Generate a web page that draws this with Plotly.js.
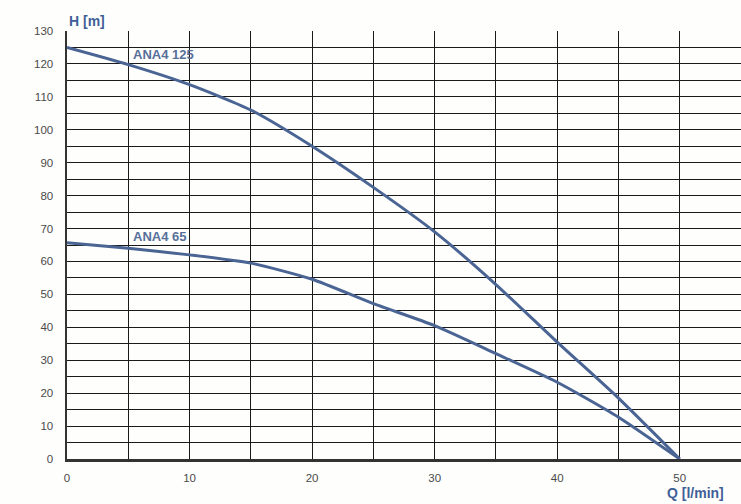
<!DOCTYPE html>
<html>
<head>
<meta charset="utf-8">
<script src="https://cdn.plot.ly/plotly-3.0.1.min.js"></script>
<style>html,body{margin:0;padding:0;background:#fefefc;}#chart{width:741px;height:504px;}</style>
</head>
<body>
<div id="chart"></div>
<script>
var flowQ = [0, 5, 10, 15, 20, 25, 30, 35, 40, 45, 50];
var headANA4_125 = [125, 119.8, 113.7, 106, 95, 82.5, 69, 53, 35.5, 18.5, 0];
var headANA4_65 = [65.7, 64, 62, 59.5, 54.6, 47.2, 40.5, 32, 23.3, 12.7, 0];
var xTicks = [0, 10, 20, 30, 40, 50];
var yTicks = [0, 10, 20, 30, 40, 50, 60, 70, 80, 90, 100, 110, 120, 130];
var seriesNames = ["ANA4 125", "ANA4 65"];

var lineColor = "#4a6494";
var labelColor = "#3f5f98";

var traces = [
  {x: flowQ, y: headANA4_125, name: seriesNames[0], mode: "lines", line: {color: lineColor, width: 3, shape: "spline", smoothing: 0.6}},
  {x: flowQ, y: headANA4_65, name: seriesNames[1], mode: "lines", line: {color: lineColor, width: 3, shape: "spline", smoothing: 0.6}}
];

var layout = {
  width: 741, height: 504,
  margin: {l: 67, r: 0, t: 31, b: 45},
  paper_bgcolor: "#fefefc",
  plot_bgcolor: "#fefefc",
  showlegend: false,
  font: {family: "Liberation Sans, Arial, sans-serif", size: 11.5, color: "#4a4a4a"},
  xaxis: {
    range: [0, 55], tickvals: xTicks, ticktext: xTicks.map(String),
    showgrid: true, gridcolor: "#1a1a1a", gridwidth: 1,
    minor: {dtick: 5, tick0: 0, showgrid: true, gridcolor: "#1a1a1a", gridwidth: 1},
    showline: true, linecolor: "#333", linewidth: 2.5,
    ticks: "outside", ticklen: 7, tickcolor: "rgba(0,0,0,0)",
    zeroline: false, fixedrange: true
  },
  yaxis: {
    range: [0, 130], tickvals: yTicks, ticktext: yTicks.map(String),
    showgrid: true, gridcolor: "#1a1a1a", gridwidth: 1,
    minor: {dtick: 5, tick0: 0, showgrid: true, gridcolor: "#1a1a1a", gridwidth: 1},
    showline: true, linecolor: "#333", linewidth: 2.5,
    ticks: "outside", ticklen: 9, tickcolor: "rgba(0,0,0,0)",
    zeroline: false, fixedrange: true
  },
  annotations: [
    {text: "H [m]", xref: "x", x: 0, xanchor: "left", yref: "paper", y: 1, yanchor: "bottom", showarrow: false,
     font: {family: "Liberation Sans, Arial, sans-serif", size: 14, color: labelColor, weight: "bold"}},
    {text: "Q [l/min]", xref: "x", x: 48.8, xanchor: "left", yref: "paper", y: -0.079, yanchor: "middle", showarrow: false,
     font: {family: "Liberation Sans, Arial, sans-serif", size: 14, color: labelColor, weight: "bold"}},
    {text: seriesNames[0], xref: "x", x: 5.2, xanchor: "left", yref: "y", y: 122.8, yanchor: "middle", showarrow: false,
     font: {family: "Liberation Sans, Arial, sans-serif", size: 13, color: "#56709a", weight: "bold"}},
    {text: seriesNames[1], xref: "x", x: 5.2, xanchor: "left", yref: "y", y: 67.5, yanchor: "middle", showarrow: false,
     font: {family: "Liberation Sans, Arial, sans-serif", size: 13, color: "#56709a", weight: "bold"}}
  ]
};

Plotly.newPlot("chart", traces, layout, {displayModeBar: false, staticPlot: true});
</script>
</body>
</html>
